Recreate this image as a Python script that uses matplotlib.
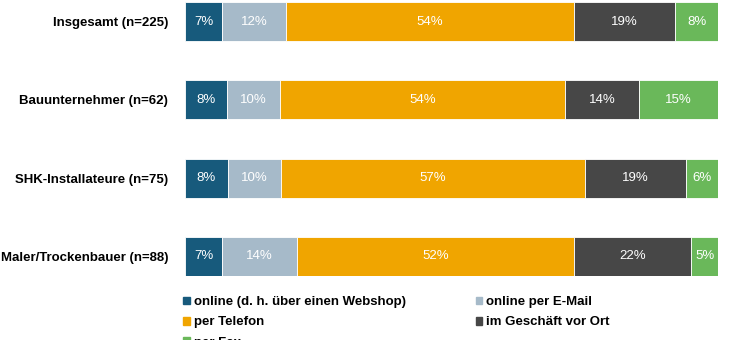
import matplotlib.pyplot as plt
from matplotlib.patches import Patch

plt.rcParams['font.family'] = ['Liberation Sans', 'DejaVu Sans']

groups = ['Insgesamt (n=225)', 'Bauunternehmer (n=62)',
          'SHK-Installateure (n=75)', 'Maler/Trockenbauer (n=88)']
series = ['online (d. h. über einen Webshop)', 'online per E-Mail',
          'per Telefon', 'im Geschäft vor Ort', 'per Fax']
webshop = [7, 8, 8, 7]
email = [12, 10, 10, 14]
telefon = [54, 54, 57, 52]
geschaeft = [19, 14, 19, 22]
fax = [8, 15, 6, 5]
colors = ['#175a7c', '#a6bac9', '#f0a500', '#474747', '#6ab85a']

values = [webshop, email, telefon, geschaeft, fax]

fig = plt.figure(figsize=(7.3, 3.4), dpi=100)
ax = fig.add_axes([185 / 730, 64 / 340, 533 / 730, 274 / 340])

# each bar scaled to fill 100 %, labels keep the rounded numbers
totals = [sum(v[i] for v in values) for i in range(len(groups))]
left = [0.0] * len(groups)
for vals, col in zip(values, colors):
    widths = [v * 100 / t for v, t in zip(vals, totals)]
    ax.barh(range(len(groups)), widths, left=left, height=0.5,
            color=col, edgecolor='white', linewidth=0.6)
    for i, (w, v) in enumerate(zip(widths, vals)):
        ax.text(left[i] + w / 2, i, f'{v}%', ha='center', va='center',
                color='white', fontsize=9.5)
    left = [l + w for l, w in zip(left, widths)]

ax.set_xlim(0, 100)
ax.set_ylim(3.25, -0.25)
ax.set_yticks(range(len(groups)))
ax.set_yticklabels(groups, fontsize=9.5, fontweight='bold')
ax.tick_params(axis='y', length=0, pad=12)
ax.set_xticks([])
for s in ax.spines.values():
    s.set_visible(False)

handles = [Patch(color=c) for c in colors]
order = [0, 2, 4, 1, 3]
fig.legend([handles[i] for i in order], [series[i] for i in order],
           loc='upper left', bbox_to_anchor=(178 / 730, 1 - 291 / 340),
           ncol=2, frameon=False,
           prop={'weight': 'bold', 'size': 9.5},
           handlelength=0.5, handleheight=0.5, handletextpad=0.3,
           labelspacing=0.62, columnspacing=5.3, borderaxespad=0)

fig.savefig('out.png', dpi=100)
